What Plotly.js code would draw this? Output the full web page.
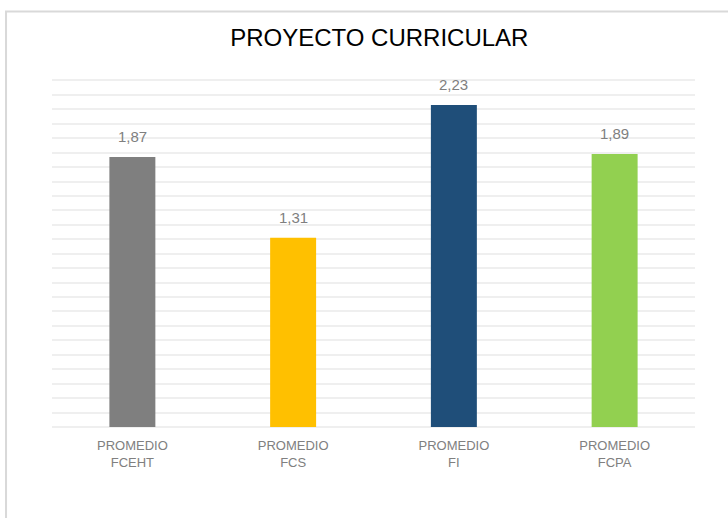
<!DOCTYPE html>
<html>
<head>
<meta charset="utf-8">
<script src="https://cdn.plot.ly/plotly-3.0.1.min.js"></script>
<style>html,body{margin:0;padding:0;background:#fff;}#chart{width:728px;height:518px;}</style>
</head>
<body>
<div id="chart"></div>
<script>
const categories = ["PROMEDIO<br>FCEHT", "PROMEDIO<br>FCS", "PROMEDIO<br>FI", "PROMEDIO<br>FCPA"];
const values = [1.87, 1.31, 2.23, 1.89];
const labels = ["1,87", "1,31", "2,23", "1,89"];
const colors = ["#7f7f7f", "#ffc000", "#1f4e79", "#92d050"];

const trace = {
  type: "bar",
  x: categories,
  y: values,
  marker: {color: colors},
  hoverinfo: "none"
};

const annotations = categories.map((c, i) => ({
  x: c, y: values[i], xref: "x", yref: "y", text: labels[i], showarrow: false,
  yanchor: "bottom", yshift: 10,
  font: {family: "Liberation Sans, Arial, sans-serif", size: 15, color: "#7f7f7f"}
}));

const layout = {
  width: 728, height: 518,
  margin: {l: 52, r: 32.5, t: 66, b: 91},
  paper_bgcolor: "#fff", plot_bgcolor: "#fff",
  bargap: 0.714,
  showlegend: false,
  title: {text: "PROYECTO CURRICULAR", x: 0.521, xanchor: "center", y: 0.928, yanchor: "middle",
          font: {family: "Liberation Sans, Arial, sans-serif", size: 24, color: "#000"}},
  xaxis: {type: "category", showgrid: false, zeroline: false, showline: false, ticks: "",
          tickfont: {family: "Liberation Sans, Arial, sans-serif", size: 13, color: "#808080"},
          ticklabelstandoff: 9},
  yaxis: {range: [0, 2.5], dtick: 0.1, showticklabels: false, showgrid: true, gridcolor: "#efefef", gridwidth: 2,
          zeroline: true, zerolinecolor: "#efefef", zerolinewidth: 2, showline: false, ticks: ""},
  annotations: annotations,
  shapes: [{type: "rect", xref: "paper", yref: "paper", x0: -0.0715, x1: 1.06, y0: -0.26, y1: 1.151,
            line: {color: "#d9d9d9", width: 2}, fillcolor: "rgba(0,0,0,0)", layer: "below"}]
};

Plotly.newPlot("chart", [trace], layout, {displayModeBar: false, staticPlot: true});
</script>
</body>
</html>
